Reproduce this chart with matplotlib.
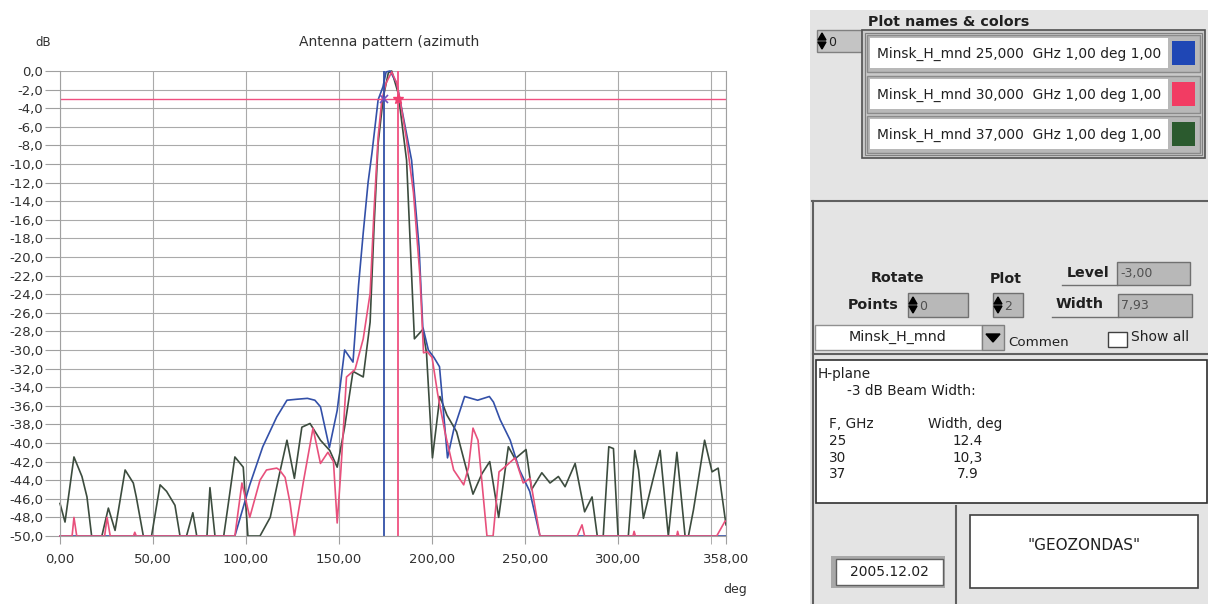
import numpy as np
import matplotlib.pyplot as plt
from matplotlib.patches import Rectangle, Polygon

# ---- antenna pattern data (deg, dB) ----
# 25 GHz (blue)
deg_25 = [0, 94, 102, 109, 116.5, 122, 127, 133, 137, 140, 144.8, 149, 153,
          157.5, 160.5, 163, 165.6, 167.7, 171, 173.6, 175.3, 177.4, 181,
          184.5, 189, 193, 195, 198, 201, 204, 208.3, 211.6, 217.5, 224.5,
          230.8, 233, 236.6, 242, 247, 252.5, 258, 358]
db_25 = [-50, -50, -44.5, -40.4, -37.2, -35.4, -35.3, -35.2, -35.4, -36.1,
         -40.5, -36.5, -30, -31.3, -23, -17.4, -12, -8.8, -3.1, -1.7, -0.1, 0,
         -1.3, -4.9, -9.6, -18.9, -27.5, -30, -30.8, -31.8, -41.6, -38.6, -35,
         -35.4, -35, -35.6, -37.5, -39.7, -42.9, -45.2, -50, -50]

# 30 GHz (pink)
deg_30 = [0, 6.5, 7.5, 9, 24, 25.3, 27, 39.5, 40.2, 41, 94, 97.8, 102, 107.5,
          111, 116.5, 118, 121, 123.7, 126, 130.8, 136, 140, 144, 147, 149,
          151, 154, 158.6, 163, 166.7, 168.8, 171, 173, 175.3, 178.3, 181,
          182.8, 186.3, 190, 193.5, 195.4, 197.5, 200, 203, 207, 211.6, 217,
          219.6, 222, 224.7, 229.5, 232.8, 236, 239, 244.6, 249, 252.7, 258,
          278, 280.6, 282, 308, 308.6, 309.3, 331.5, 332, 332.6, 353, 357.5,
          358]
db_30 = [-50, -50, -48, -50, -50, -48, -50, -50, -49.6, -50, -50, -44.3, -48,
         -44, -42.9, -42.7, -42.9, -43.7, -46.5, -50, -44.2, -38.4, -42.2, -41,
         -42, -48.6, -42.9, -32.9, -32.1, -28.8, -23.9, -15, -7.1, -3.1, -1.3,
         -0.1, -1.3, -3.1, -7.4, -13.1, -22.1, -30.3, -30.2, -30.8, -34.7,
         -38.9, -42.9, -44.5, -42.6, -38.4, -39.7, -50, -50, -43.1, -42.6,
         -41.6, -44.3, -43.8, -50, -50, -48.8, -50, -50, -49.5, -50, -50,
         -49.5, -50, -50, -48.4, -48.4]

# 37 GHz (dark green)
deg_37 = [0, 2.7, 7.5, 11.8, 14.5, 17, 22.5, 26, 29.6, 35, 39.4, 41, 44.8,
          49.2, 53.8, 57.3, 61.8, 64.5, 68, 71.4, 73.5, 79, 80.6, 83.3, 88, 90,
          94, 98.5, 101, 107.5, 113, 118, 122, 126, 130, 134.4, 140, 145, 149,
          153, 157.5, 163, 166.7, 168.8, 171, 173.8, 176.5, 178.3, 181.8,
          186.3, 190.5, 195, 197, 200.2, 204.2, 208, 213.2, 222, 226.8, 231,
          235.8, 241, 244.6, 250.5, 253.5, 259, 263.4, 267.9, 271.5, 276.9,
          282, 286, 288.8, 292, 295, 297.5, 300, 305.5, 309, 311, 313.6, 322.6,
          327, 331.6, 336, 337.8, 340.5, 346.5, 350.5, 353.8, 358]
db_37 = [-46.5, -48.5, -41.5, -43.6, -45.8, -50, -50, -47, -49.4, -42.9, -44.3,
         -45.8, -50, -50, -44.5, -45.2, -46.7, -50, -50, -47.5, -50, -50, -44.8,
         -50, -50, -47.2, -41.5, -42.6, -50, -50, -48, -43.3, -39.7, -43.8,
         -38.3, -37.9, -39.7, -40.8, -42.6, -38.3, -32.3, -32.9, -27, -16.8,
         -7.8, -2.8, -0.2, 0, -2.4, -9.6, -28.8, -27.8, -30.3, -41.6, -35, -37,
         -38.8, -45.5, -43.3, -42, -48, -40.4, -41.7, -40.7, -45, -43.2, -44.3,
         -43.6, -44.7, -42.2, -47.4, -45.8, -50, -50, -40.4, -40.6, -50, -50,
         -40.8, -42.9, -48.1, -40.8, -50, -41, -50, -50, -47.2, -39.7, -43.1,
         -42.7, -48.8]

level_db = -3.0
beam_left = 174.0
beam_right = 181.93

plot_names = ["Minsk_H_mnd 25,000  GHz 1,00 deg 1,00",
              "Minsk_H_mnd 30,000  GHz 1,00 deg 1,00",
              "Minsk_H_mnd 37,000  GHz 1,00 deg 1,00"]
swatch_colors = ["#1f47b5", "#f23c63", "#2b5a2e"]
line_colors = ["#3350a8", "#e8507c", "#3c4c3e"]
freq_ghz = ["25", "30", "37"]
width_deg = ["12.4", "10,3", "7.9"]

W, H = 1208, 604
fig = plt.figure(figsize=(W / 100, H / 100), dpi=100)
fig.patch.set_facecolor("white")

# ---- GUI panel on the right, drawn in pixel coordinates ----
gui = fig.add_axes([0, 0, 1, 1], zorder=0)
gui.set_xlim(0, W)
gui.set_ylim(H, 0)
gui.axis("off")


def box(x0, y0, x1, y1, fc, ec="none", lw=1.0):
    gui.add_patch(Rectangle((x0, y0), x1 - x0, y1 - y0, facecolor=fc,
                            edgecolor=ec, linewidth=lw))


def spinner(x, yc):
    gui.add_patch(Polygon([(x - 4, yc - 1), (x + 4, yc - 1), (x, yc - 8)],
                          color="black"))
    gui.add_patch(Polygon([(x - 4, yc + 1), (x + 4, yc + 1), (x, yc + 8)],
                          color="black"))


def label(x, y, s, ha="left", bold=False, size=10, color="#202020"):
    gui.text(x, y, s, ha=ha, va="center", fontsize=size, color=color,
             fontweight="bold" if bold else "normal")


box(810, 10, 1208, 604, "#e4e4e4")

label(868, 22, "Plot names & colors", bold=True, size=10.3)
box(817, 30, 862, 52, "#c4c4c4", "#808080")
spinner(822, 41)
label(828, 42, "0", size=9)

box(862, 30, 1205, 158, "#c9c9c9", "#505050", 1.2)
box(865, 33, 1202, 155, "none", "#808080", 0.8)
rows = [(35, 72), (76, 113), (116, 153)]
for (y0, y1), name, col in zip(rows, plot_names, swatch_colors):
    box(867, y0, 1200, y1, "#b8b8b8", "#8a8a8a")
    box(870, y0 + 3, 1168, y1 - 4, "white")
    box(1172, y0 + 6, 1195, y1 - 7, col)
    label(877, (y0 + y1) / 2, name, size=9.9)

gui.plot([812, 1208], [201, 201], color="#606060", lw=1.5)
gui.plot([813, 813], [201, 604], color="#606060", lw=1.5)

label(898, 278, "Rotate", ha="center", bold=True, size=10.3)
label(1006, 279, "Plot", ha="center", bold=True, size=10.3)
label(1088, 273, "Level", ha="center", bold=True, size=10.3)
box(1117, 262, 1190, 285, "#b8b8b8", "#707070")
label(1120, 274, "-3,00", size=9, color="#505050")
gui.plot([1062, 1117], [285, 285], color="#707070", lw=1)

label(873, 305, "Points", ha="center", bold=True, size=10.3)
box(908, 293, 968, 317, "#b8b8b8", "#707070")
spinner(913, 305)
label(919, 306, "0", size=9, color="#505050")
box(993, 293, 1023, 317, "#b8b8b8", "#707070")
spinner(998, 305)
label(1004, 306, "2", size=9, color="#505050")
label(1080, 304, "Width", ha="center", bold=True, size=10.3)
box(1118, 294, 1192, 317, "#b8b8b8", "#707070")
label(1121, 306, "7,93", size=9, color="#505050")
gui.plot([1052, 1118], [317, 317], color="#707070", lw=1)

box(815, 325, 982, 350, "white", "#909090")
label(897, 337, "Minsk_H_mnd", ha="center", size=10.3)
box(982, 325, 1004, 350, "#c0c0c0", "#808080")
gui.add_patch(Polygon([(986, 334), (1000, 334), (993, 342)], color="black"))
label(1008, 342, "Commen", size=9.6)
box(1108, 332, 1127, 347, "white", "#404040")
label(1131, 337, "Show all", size=10)
gui.plot([813, 1208], [354, 354], color="#606060", lw=1.5)

box(816, 360, 1207, 503, "white", "#303030", 1.2)
label(818, 374, "H-plane", size=9.8)
label(847, 391, "-3 dB Beam Width:", size=9.8)
label(829, 424, "F, GHz", size=9.8)
label(928, 424, "Width, deg", size=9.8)
for i, (f, w) in enumerate(zip(freq_ghz, width_deg)):
    label(829, 441 + i * 16.5, f, size=9.8)
    label(968, 441 + i * 16.5, w, ha="center", size=9.8)

gui.plot([956, 956], [506, 604], color="#606060", lw=1.5)
box(831, 556, 945, 588, "#a8a8a8")
box(836, 559, 943, 585, "white", "#606060")
label(889, 572, "2005.12.02", ha="center", size=10)
box(970, 515, 1198, 588, "white", "#404040", 1.2)
label(1084, 545, '"GEOZONDAS"', ha="center", size=11)

# ---- antenna pattern chart ----
ax = fig.add_axes([60 / W, 1 - 536 / H, (726 - 60) / W, (536 - 71) / H],
                  zorder=1)
ax.set_xlim(0, 358)
ax.set_ylim(-50, 0)
ax.patch.set_alpha(0)

ax.plot(deg_37, db_37, color=line_colors[2], lw=1.2, clip_on=False)
ax.plot(deg_25, db_25, color=line_colors[0], lw=1.2, clip_on=False)
ax.plot(deg_30, db_30, color=line_colors[1], lw=1.2, clip_on=False)

ax.axhline(level_db, color="#f05080", lw=1.0)
ax.axvline(beam_left, color=line_colors[0], lw=1.3)
ax.axvline(beam_right, color="#f05080", lw=1.3)
ax.plot([beam_left], [level_db], marker="x", color="#7050c0", ms=6, mew=1.2)
ax.plot([beam_right], [level_db], marker="*", color="#f04070", ms=7)

xt = [0, 50, 100, 150, 200, 250, 300, 358]
ax.set_xticks(xt)
ax.set_xticklabels([f"{v:.2f}".replace(".", ",") for v in xt])
ax.set_xticks([350], minor=True)
yt = np.arange(0, -51, -2)
ax.set_yticks(yt)
ax.set_yticklabels([f"{abs(v):.1f}".replace(".", ",") if v == 0
                    else f"{v:.1f}".replace(".", ",") for v in yt])
ax.tick_params(axis="both", which="both", direction="out", color="#a0a0a0",
               labelsize=9.5, labelcolor="#303030")
ax.tick_params(axis="x", which="both", length=6, pad=6)
ax.tick_params(axis="y", length=11, pad=1)
ax.grid(True, which="both", color="#aaaaaa", lw=0.8)
ax.spines["top"].set_visible(False)
for side in ["left", "bottom", "right"]:
    ax.spines[side].set_color("#a0a0a0")

fig.text(35 / W, 1 - 42 / H, "dB", fontsize=8.5, color="#303030", va="center")
fig.text(389 / W, 1 - 42 / H, "Antenna pattern (azimuth", fontsize=10,
         color="#303030", ha="center", va="center")
fig.text(735 / W, 1 - 590 / H, "deg", fontsize=9, color="#303030",
         ha="center", va="center")

fig.savefig("out.png", dpi=100)
